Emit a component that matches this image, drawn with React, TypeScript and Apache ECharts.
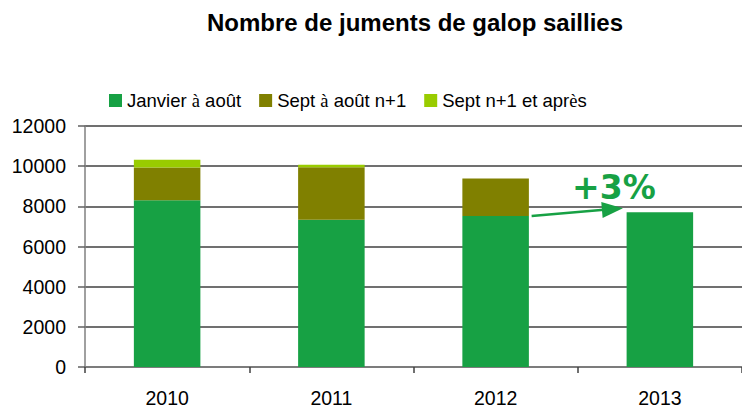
import React, { useEffect, useRef } from "react";
import * as echarts from "echarts";

const categories = ["2010", "2011", "2012", "2013"];
const janvierAout = [8300, 7330, 7520, 7710];
const septAoutN1 = [1630, 2610, 1870, null];
const septN1Apres = [390, 130, null, null];
const yTicks = { min: 0, max: 12000, interval: 2000 };
const annotationText = "+3%";

const GREEN = "#17a144";
const OLIVE = "#808000";
const LIGHT = "#99cc00";
const FONT = "'Liberation Sans', Arial, sans-serif";

export default function App() {
  const ref = useRef<HTMLDivElement>(null);
  useEffect(() => {
    if (!ref.current) return;
    const chart = echarts.init(ref.current, undefined, { renderer: "svg" });
    const legendFmt = (name: string) => {
      if (name === "Janvier à août") return "{a|Janvier }{s|à}{a| août}";
      if (name === "Sept à août n+1") return "{a|Sept }{s|à}{a| août n+1}";
      return "{a|Sept n+1 et apr}{s|è}{a|s}";
    };
    chart.setOption({
      animation: false,
      backgroundColor: "#ffffff",
      title: {
        text: "Nombre de juments de galop saillies",
        left: 410,
        textAlign: "center",
        top: 5,
        textStyle: { fontFamily: FONT, fontWeight: "bold", fontSize: 24, color: "#000" },
      },
      legend: {
        left: 104,
        top: 86,
        itemWidth: 13,
        itemHeight: 13,
        itemGap: 18,
        icon: "rect",
        formatter: legendFmt,
        textStyle: {
          fontFamily: FONT,
          fontSize: 18.5,
          color: "#000",
          rich: {
            a: { fontFamily: FONT, fontSize: 18.5, color: "#000" },
            s: { fontFamily: "'Liberation Serif', 'Times New Roman', serif", fontSize: 18.5, color: "#000" },
          },
        },
        data: ["Janvier à août", "Sept à août n+1", "Sept n+1 et après"],
      },
      grid: { left: 85, top: 126, width: 663, height: 244.5, containLabel: false },
      xAxis: {
        type: "category",
        data: categories,
        axisLine: { lineStyle: { color: "#808080", width: 1.5 } },
        axisTick: { show: true, length: 6, lineStyle: { color: "#404040", width: 1.5 } },
        axisLabel: { fontFamily: FONT, fontSize: 19.5, color: "#000", margin: 21 },
      },
      yAxis: {
        type: "value",
        min: yTicks.min,
        max: yTicks.max,
        interval: yTicks.interval,
        axisLine: { show: true, lineStyle: { color: "#808080", width: 1.5 } },
        axisTick: { show: true, length: 7, lineStyle: { color: "#606060", width: 1.5 } },
        axisLabel: {
          fontFamily: FONT,
          fontSize: 19.5,
          color: "#000",
          margin: 19,
          formatter: (v: number) => String(v),
        },
        splitLine: { lineStyle: { color: "#404040", width: 1.5 } },
      },
      series: [
        { name: "Janvier à août", type: "bar", stack: "t", data: janvierAout, barWidth: "40.5%", itemStyle: { color: GREEN } },
        { name: "Sept à août n+1", type: "bar", stack: "t", data: septAoutN1, itemStyle: { color: OLIVE } },
        { name: "Sept n+1 et après", type: "bar", stack: "t", data: septN1Apres, itemStyle: { color: LIGHT } },
      ],
    });

    const p12 = chart.convertToPixel({ seriesIndex: 0 }, [2, janvierAout[2]]) as number[];
    const p13 = chart.convertToPixel({ seriesIndex: 0 }, [3, janvierAout[3]]) as number[];
    const x0 = p12[0] + 36;
    const y0 = p12[1];
    const x1 = p13[0] - 37;
    const y1 = p13[1] - 4;
    const dx = x1 - x0;
    const dy = y1 - y0;
    const len = Math.sqrt(dx * dx + dy * dy);
    const ux = dx / len;
    const uy = dy / len;
    const headLen = 21;
    const headHalf = 8;
    const bx = x1 - ux * headLen;
    const by = y1 - uy * headLen;
    chart.setOption({
      graphic: [
        {
          type: "line",
          shape: { x1: x0, y1: y0, x2: bx + ux * 2, y2: by + uy * 2 },
          style: { stroke: GREEN, lineWidth: 2.5 },
          z: 100,
        },
        {
          type: "polygon",
          shape: {
            points: [
              [x1, y1],
              [bx - uy * headHalf, by + ux * headHalf],
              [bx + uy * headHalf, by - ux * headHalf],
            ],
          },
          style: { fill: GREEN },
          z: 100,
        },
        {
          type: "text",
          x: p13[0] - 46,
          y: p13[1] - 25,
          style: {
            text: annotationText,
            fill: GREEN,
            font: "bold 33px 'DejaVu Sans', Verdana, sans-serif",
            textAlign: "center",
            textVerticalAlign: "middle",
          },
          z: 100,
        },
      ],
    });
    return () => chart.dispose();
  }, []);
  return <div ref={ref} style={{ position: "fixed", left: 0, top: 0, width: 742, height: 408 }} />;
}
